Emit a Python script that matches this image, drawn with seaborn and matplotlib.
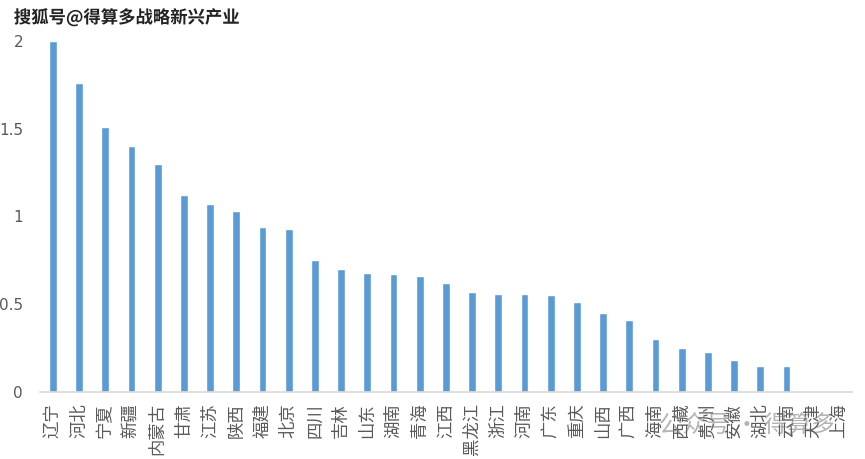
import matplotlib
matplotlib.use("Agg")
import matplotlib.pyplot as plt
import matplotlib.patheffects as pe
import pandas as pd
import seaborn as sns

provinces = ["辽宁", "河北", "宁夏", "新疆", "内蒙古", "甘肃", "江苏", "陕西", "福建", "北京",
             "四川", "吉林", "山东", "湖南", "青海", "江西", "黑龙江", "浙江", "河南", "广东",
             "重庆", "山西", "广西", "海南", "西藏", "贵州", "安徽", "湖北", "云南", "天津", "上海"]
values = [2.00, 1.76, 1.51, 1.40, 1.30, 1.12, 1.07, 1.03, 0.94, 0.93,
          0.75, 0.70, 0.68, 0.67, 0.66, 0.62, 0.57, 0.56, 0.56, 0.55,
          0.51, 0.45, 0.41, 0.30, 0.25, 0.23, 0.18, 0.15, 0.15, 0.0, 0.0]
yticks = [0, 0.5, 1, 1.5, 2]
ytick_labels = ["0", "0.5", "1", "1.5", "2"]

sns.set_theme(style="white")
plt.rcParams["font.family"] = ["Noto Sans CJK SC", "DejaVu Sans"]

df = pd.DataFrame({"province": provinces, "value": values})

fig = plt.figure(figsize=(8.65, 4.59), dpi=100)
ax = fig.add_axes([0.046, 0.146, 0.939, 0.765])

sns.barplot(data=df, x="province", y="value", color="#5B9BD5", saturation=1,
            width=0.3, ax=ax)

ax.set_ylim(0, 2)
ax.set_xlim(-0.5, len(provinces) - 0.5)
ax.set_yticks(yticks)
ax.set_yticklabels(ytick_labels, fontsize=11, color="#595959", family="DejaVu Sans")
ax.tick_params(axis="y", length=0, pad=12)
ax.tick_params(axis="x", length=0, pad=8, labelsize=12.5, labelcolor="#595959", rotation=90)
ax.set_xlabel("")
ax.set_ylabel("")
for side in ["top", "right", "left"]:
    ax.spines[side].set_visible(False)
ax.spines["bottom"].set_color("#D9D9D9")
ax.spines["bottom"].set_linewidth(1.2)

# watermarks
fig.text(0.016, 0.962, "搜狐号@得算多战略新兴产业", fontsize=12.5, fontweight="bold",
         color="#222222", va="center", ha="left",
         path_effects=[pe.withStroke(linewidth=2.5, foreground="white")])
fig.text(0.965, 0.072, "公众号 · 得算多", fontsize=17, color="#777777", alpha=0.55,
         va="center", ha="right")

fig.savefig("out.png", dpi=100)
